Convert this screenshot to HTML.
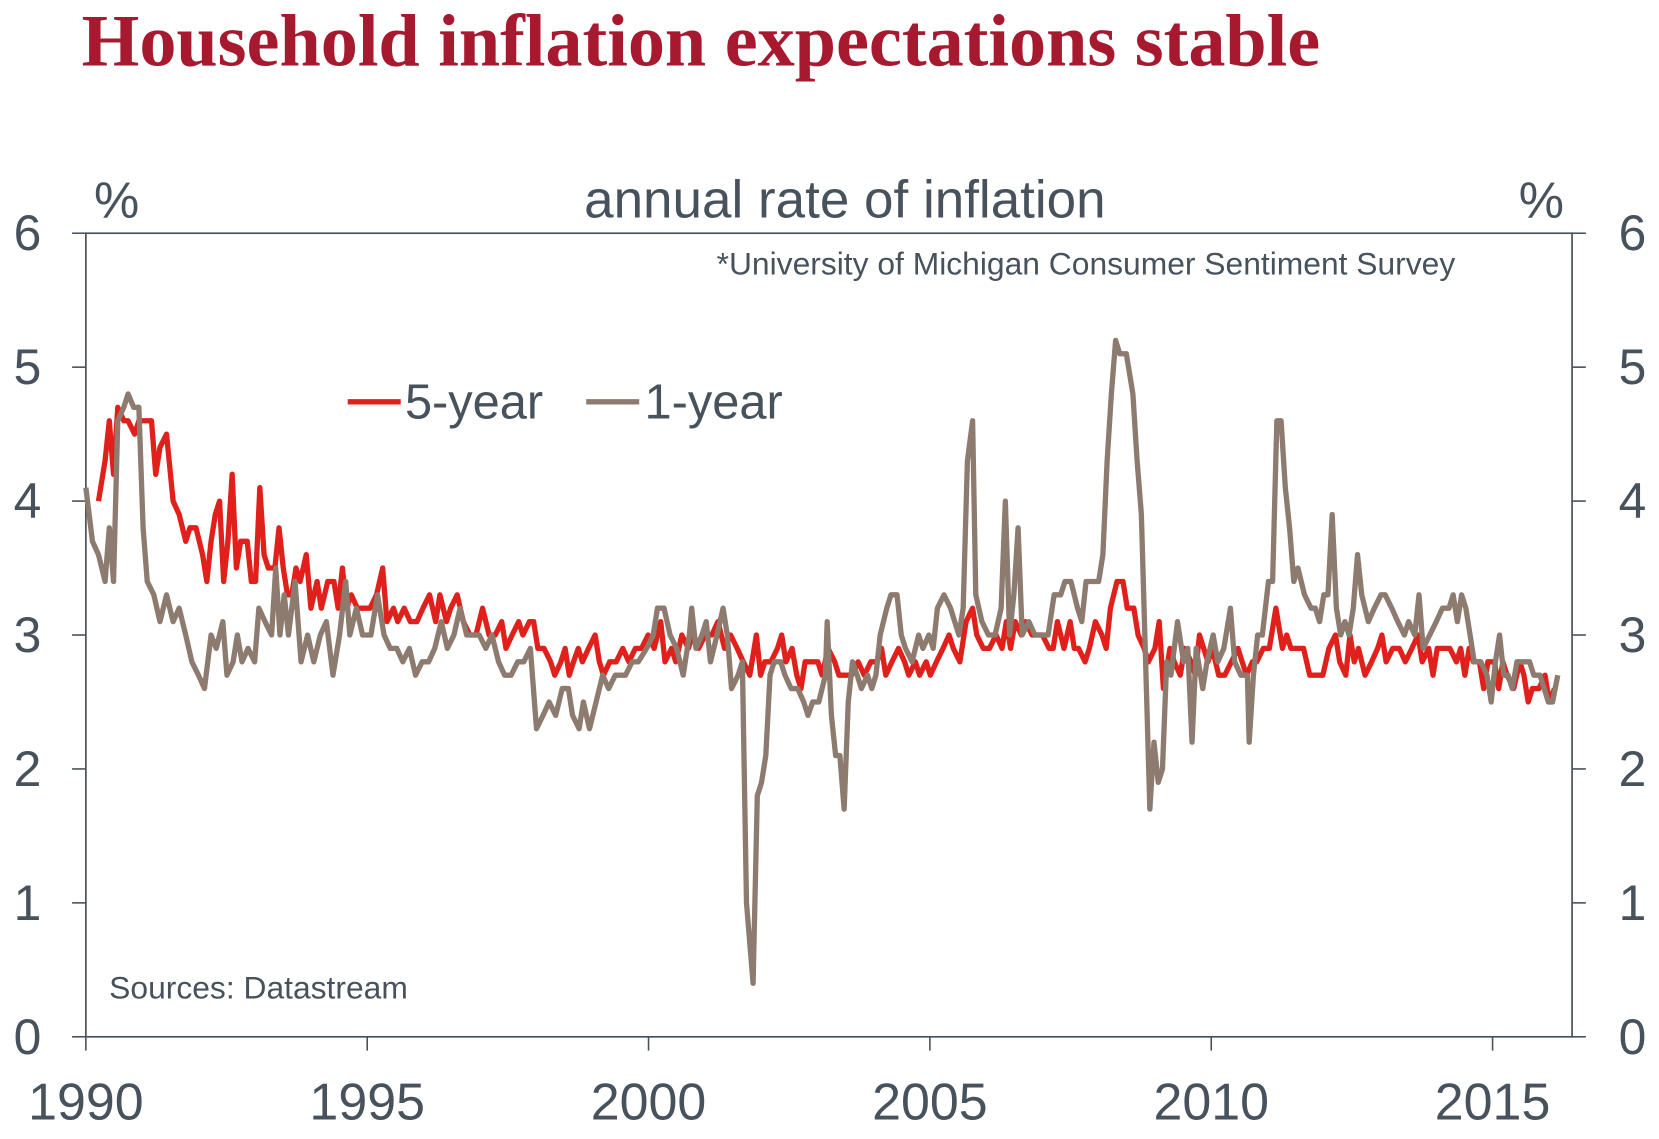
<!DOCTYPE html>
<html><head><meta charset="utf-8"><style>
body{margin:0;background:#fff;}
svg text{font-family:"Liberation Sans",sans-serif;}
</style></head><body>
<svg id="chart" width="1659" height="1139" viewBox="0 0 1565 1074.4" preserveAspectRatio="none" xmlns="http://www.w3.org/2000/svg" style="display:block">
<text x="77" y="62" style="font-family:'Liberation Serif',serif;font-weight:bold;font-size:70px;fill:#a6192e">Household inflation expectations stable</text>
<text x="797" y="205" text-anchor="middle" style="font-size:50px;fill:#48525c">annual rate of inflation</text>
<text x="110" y="205" text-anchor="middle" style="font-size:48px;fill:#48525c">%</text>
<text x="1454" y="205" text-anchor="middle" style="font-size:48px;fill:#48525c">%</text>
<text x="676" y="259" style="font-size:30px;fill:#48525c">*University of Michigan Consumer Sentiment Survey</text>
<text x="103" y="942" style="font-size:30px;fill:#48525c">Sources: Datastream</text>
<g id="axes"></g>
<g id="series"></g>
<g>
<line x1="328" y1="379" x2="378" y2="379" stroke="#e0201b" stroke-width="5"/>
<text x="382" y="395" style="font-size:46px;fill:#48525c">5-year</text>
<line x1="553" y1="379" x2="603" y2="379" stroke="#8c7b6e" stroke-width="5"/>
<text x="608" y="395" style="font-size:46px;fill:#48525c">1-year</text>
</g>
</svg>
<script>
const yTicks=[0,1,2,3,4,5,6];
const xTickYears=[1990,1995,2000,2005,2010,2015];
// months since Jan 1990
const oneYearMonths=[0,1.4,2.7,4.1,5,5.9,6.8,8.1,9,10.2,11.3,12.2,13.1,14.5,15.8,17.2,18.6,19.9,21.3,22.6,24,25.3,26.7,27.8,29.2,30.1,31.4,32.3,33.3,34.6,36,36.9,38.2,39.6,40.5,41.4,42.3,43.2,44.6,45.9,47.3,48.6,50,51.3,52.7,54.1,55.4,56.3,57.7,59,60.8,62.2,63.6,64.9,66.3,67.6,69,70.3,71.7,73.1,74.4,75.8,77.1,78.5,79.8,81.2,82.6,83.9,85.3,86.6,88,89.3,90.7,92.1,93.4,94.8,96.1,97.5,98.8,100.2,101.6,102.9,103.8,105.2,106.1,107.4,108.8,110.2,111.5,112.9,115.1,116.5,117.8,119.6,121,121.9,123.3,124.6,126,127.4,128.7,129.2,130.1,131.4,132.3,133.2,134.6,135.9,136.8,137.7,139.1,140,140.9,142.3,143.2,144.1,145,145.9,146.8,148.2,149.1,150.4,151.8,153.1,154,155,156.3,157.7,158.1,159,159.9,160.8,161.7,162.6,163.5,164.5,165.4,166.7,167.6,168.5,169.4,170.8,171.7,173,173.9,174.8,176.2,177.6,178.5,179.8,180.7,181.6,183,184.4,185.3,186.2,187.1,188,189.1,189.8,191.1,192.5,193.9,195.2,196.1,197,197.9,198.8,199.7,201.1,202.4,203.8,205.2,206.5,207.9,208.8,210.1,211.5,212.4,213.3,214.7,216,216.9,217.8,218.7,219.6,220.5,221.9,223.3,224.2,225.1,226,226.9,227.8,228.7,229.6,230.5,231.4,232.8,234.1,235,235.9,236.8,238.2,239.1,240.4,241.4,242.7,244.1,245,246.3,247.7,248.1,249,249.9,250.9,252.2,253.1,254,254.9,255.8,256.7,257.6,258.5,259.9,261.3,262.2,263.1,264,264.9,265.8,266.7,267.6,268.5,269.4,270.3,271.2,272.1,273.5,274.8,276.2,277.1,278.5,279.8,281.2,282.1,283.4,284.3,285.2,286.6,288,289.3,290.7,291.6,292.5,293.4,294.3,295.2,296.1,297.5,298.8,299.7,300.6,301.5,302.4,303.3,304.2,305.2,306.5,307.9,308.8,310.1,311,311.9,312.8,313.9];
const oneYearValues=[4.1,3.7,3.6,3.4,3.8,3.4,4.6,4.7,4.8,4.7,4.7,3.8,3.4,3.3,3.1,3.3,3.1,3.2,3.0,2.8,2.7,2.6,3.0,2.9,3.1,2.7,2.8,3.0,2.8,2.9,2.8,3.2,3.1,3.0,3.5,3.0,3.3,3.0,3.4,2.8,3.0,2.8,3.0,3.1,2.7,3.0,3.4,3.0,3.2,3.0,3.0,3.3,3.0,2.9,2.9,2.8,2.9,2.7,2.8,2.8,2.9,3.1,2.9,3.0,3.2,3.0,3.0,3.0,2.9,3.0,2.8,2.7,2.7,2.8,2.8,2.9,2.3,2.4,2.5,2.4,2.6,2.6,2.4,2.3,2.5,2.3,2.5,2.7,2.6,2.7,2.7,2.8,2.8,2.9,3.0,3.2,3.2,3.0,2.9,2.7,3.0,3.2,2.9,3.0,3.1,2.8,3.0,3.2,3.0,2.6,2.7,2.8,1.0,0.4,1.8,1.9,2.1,2.7,2.8,2.8,2.7,2.6,2.6,2.5,2.4,2.5,2.5,2.7,3.1,2.4,2.1,2.1,1.7,2.5,2.8,2.7,2.6,2.7,2.6,2.7,3.0,3.2,3.3,3.3,3.0,2.9,2.8,3.0,2.9,3.0,2.9,3.2,3.3,3.2,3.1,3.0,3.2,4.3,4.6,3.3,3.1,3.0,3.0,3.2,4.0,3.0,3.3,3.8,3.0,3.1,3.0,3.0,3.0,3.3,3.3,3.4,3.4,3.2,3.1,3.4,3.4,3.4,3.6,4.3,4.8,5.2,5.1,5.1,4.8,4.3,3.9,2.8,1.7,2.2,1.9,2.0,2.8,2.7,3.1,2.8,2.9,2.2,2.9,2.6,2.8,3.0,2.8,2.9,3.2,2.8,2.7,2.7,2.2,2.7,3.0,3.0,3.4,3.4,4.6,4.6,4.1,3.8,3.4,3.5,3.3,3.2,3.2,3.1,3.3,3.3,3.9,3.2,3.0,3.1,3.0,3.2,3.6,3.3,3.1,3.2,3.3,3.3,3.2,3.1,3.0,3.1,3.0,3.3,2.9,3.0,3.1,3.2,3.2,3.3,3.1,3.3,3.2,3.0,2.8,2.8,2.7,2.5,2.8,3.0,2.7,2.7,2.6,2.8,2.8,2.8,2.7,2.7,2.6,2.5,2.5,2.7];
const fiveYearMonths=[2.7,4.1,5,5.9,6.8,8.1,9,10.4,11.3,12.7,14,14.9,15.8,17.2,18.6,19.9,21.3,22.2,23.5,24.9,25.8,26.7,27.6,28.5,29.4,30.3,31.2,32.1,33,34.4,35.3,36.2,37.1,38,38.9,40.3,41.2,42.1,43,43.9,44.8,45.7,47,48,49.3,50.2,51.6,52.9,53.8,54.7,55.6,56.6,57.9,59.3,60.6,62,63.3,64.2,65.6,66.5,67.9,69.2,70.6,71.9,73.3,74.6,75.5,76.9,77.8,79.2,80.5,81.9,83.2,84.6,86,87.3,88.7,89.6,90.9,92.3,93.2,94.6,95.5,96.4,97.7,99.1,100,101.3,102.2,103.1,104,105,105.9,107.2,108.6,109.5,110.4,111.7,113.1,114.5,115.8,117.2,118.5,119.9,121.2,122.6,123.5,124.9,125.8,127.1,128.5,129.4,130.7,132.1,133.5,134.8,136.2,137.5,138.9,140.2,141.6,143,143.9,144.8,146.1,147.5,148.4,149.3,150.6,151.6,152.5,153.4,154.7,156.1,157,158.3,159.7,160.6,162,163.3,164.7,166,167.4,168.7,169.7,170.6,171.9,173.3,174.6,175.5,176.9,177.8,179.2,180.1,181.4,182.8,184.1,185,186.4,187.7,189.1,190,191.4,192.7,194.1,195.4,196.3,197.2,198.2,199.5,200.4,201.8,202.7,204,205.4,206.3,207.2,208.6,209.9,210.8,211.7,213.1,214,215.3,216.7,217.6,218.5,219.9,221.2,222.1,223.5,224.4,225.7,226.6,228,228.9,229.8,231.2,232.1,233.4,234.3,235.7,236.6,237.5,238.4,239.3,240.2,241.6,242.9,244.3,245.7,246.6,247.5,248.8,249.7,251.1,252.4,253.8,255.2,256.1,257,258.3,259.7,261,262.4,263.8,265.1,266.5,267.4,268.7,269.6,270.5,271.4,272.8,274.2,275.5,276.4,277.3,278.7,280.1,281.4,282.8,284.1,285,286.4,287.3,288.2,289.5,290.9,292.3,293.2,294.1,295,295.9,297.2,298.1,299,300.4,301.3,302.2,303.1,304.5,305.8,306.7,307.6,308.5,309.9,311.2,312.1,313.2];
const fiveYearValues=[4.0,4.3,4.6,4.2,4.7,4.6,4.6,4.5,4.6,4.6,4.6,4.2,4.4,4.5,4.0,3.9,3.7,3.8,3.8,3.6,3.4,3.7,3.9,4.0,3.4,3.7,4.2,3.5,3.7,3.7,3.4,3.4,4.1,3.6,3.5,3.5,3.8,3.5,3.3,3.3,3.5,3.4,3.6,3.2,3.4,3.2,3.4,3.4,3.2,3.5,3.2,3.3,3.2,3.2,3.2,3.3,3.5,3.1,3.2,3.1,3.2,3.1,3.1,3.2,3.3,3.1,3.3,3.1,3.2,3.3,3.1,3.0,3.0,3.2,3.0,3.0,3.1,2.9,3.0,3.1,3.0,3.1,3.1,2.9,2.9,2.8,2.7,2.8,2.9,2.7,2.8,2.9,2.8,2.9,3.0,2.8,2.7,2.8,2.8,2.9,2.8,2.9,2.9,3.0,2.9,3.1,2.8,2.9,2.8,3.0,2.9,3.0,2.9,3.0,3.0,3.1,2.9,3.0,2.9,2.8,2.7,3.0,2.7,2.8,2.8,2.9,3.0,2.8,2.9,2.7,2.6,2.8,2.8,2.8,2.7,2.9,2.8,2.7,2.7,2.7,2.8,2.7,2.8,2.8,2.9,2.7,2.8,2.9,2.8,2.7,2.8,2.7,2.8,2.7,2.8,2.9,3.0,2.9,2.8,3.1,3.2,3.0,2.9,2.9,3.0,2.9,3.1,2.9,3.1,3.0,3.1,3.0,3.0,3.0,2.9,2.9,3.1,2.9,3.1,2.9,2.9,2.8,2.9,3.1,3.0,2.9,3.2,3.4,3.4,3.2,3.2,3.0,2.9,2.8,2.9,3.1,2.6,2.9,2.8,2.7,2.9,2.8,2.7,3.0,2.9,2.8,2.9,2.7,2.7,2.8,2.9,2.8,2.7,2.8,2.8,2.9,2.9,3.2,2.9,3.0,2.9,2.9,2.9,2.7,2.7,2.7,2.9,3.0,2.8,2.7,3.0,2.8,2.9,2.7,2.8,2.9,3.0,2.8,2.9,2.9,2.8,2.9,3.0,2.8,2.9,2.7,2.9,2.9,2.9,2.8,2.9,2.7,2.9,2.8,2.8,2.6,2.8,2.8,2.6,2.8,2.7,2.6,2.8,2.7,2.5,2.6,2.6,2.7,2.5,2.6];

const NS='http://www.w3.org/2000/svg';
const L=81,R=1483,T=220,B=978;
function xScale(m){return L+(m/12)*((1408-81)/25);}
function xYear(y){return xScale((y-1990)*12);}
function yScale(v){return B-(v/6)*(B-T);}
const axes=document.getElementById('axes');
const series=document.getElementById('series');
function mk(tag,attrs,parent){const e=document.createElementNS(NS,tag);for(const k in attrs)e.setAttribute(k,attrs[k]);parent.appendChild(e);return e;}
const frame=mk('rect',{x:L,y:T,width:R-L,height:B-T,fill:'none',stroke:'#48525c','stroke-width':1.6},axes);


yTicks.forEach(v=>{
  const y=yScale(v);
  const t1=mk('line',{x1:L-13,x2:L,y1:y,y2:y,stroke:'#48525c','stroke-width':1.5},axes);
  
  
  const t2=mk('line',{x1:R,x2:R+13,y1:y,y2:y,stroke:'#48525c','stroke-width':1.5},axes);
  
  
  const l1=mk('text',{x:26,y:y+16,'text-anchor':'middle',style:'font-size:47px;fill:#48525c'},axes);
  l1.textContent=v;
  
  
  const l2=mk('text',{x:1540,y:y+16,'text-anchor':'middle',style:'font-size:47px;fill:#48525c'},axes);
  l2.textContent=v;
  
  
});
xTickYears.forEach(yr=>{
  const x=xYear(yr);
  const t=mk('line',{x1:x,x2:x,y1:B,y2:B+13,stroke:'#48525c','stroke-width':1.5},axes);
  
  
  const l=mk('text',{x:x,y:1056,'text-anchor':'middle',style:'font-size:49px;fill:#48525c'},axes);
  l.textContent=yr;
  
  
});
function pathFor(ms,vs){return ms.map((m,i)=>(i?'L':'M')+xScale(m).toFixed(1)+','+yScale(vs[i]).toFixed(1)).join('');}
const p5=mk('path',{d:pathFor(fiveYearMonths,fiveYearValues),fill:'none',stroke:'#e0201b','stroke-width':5,'stroke-linejoin':'round'},series);


const p1=mk('path',{d:pathFor(oneYearMonths,oneYearValues),fill:'none',stroke:'#8c7b6e','stroke-width':5,'stroke-linejoin':'round'},series);


</script>
</body></html>
